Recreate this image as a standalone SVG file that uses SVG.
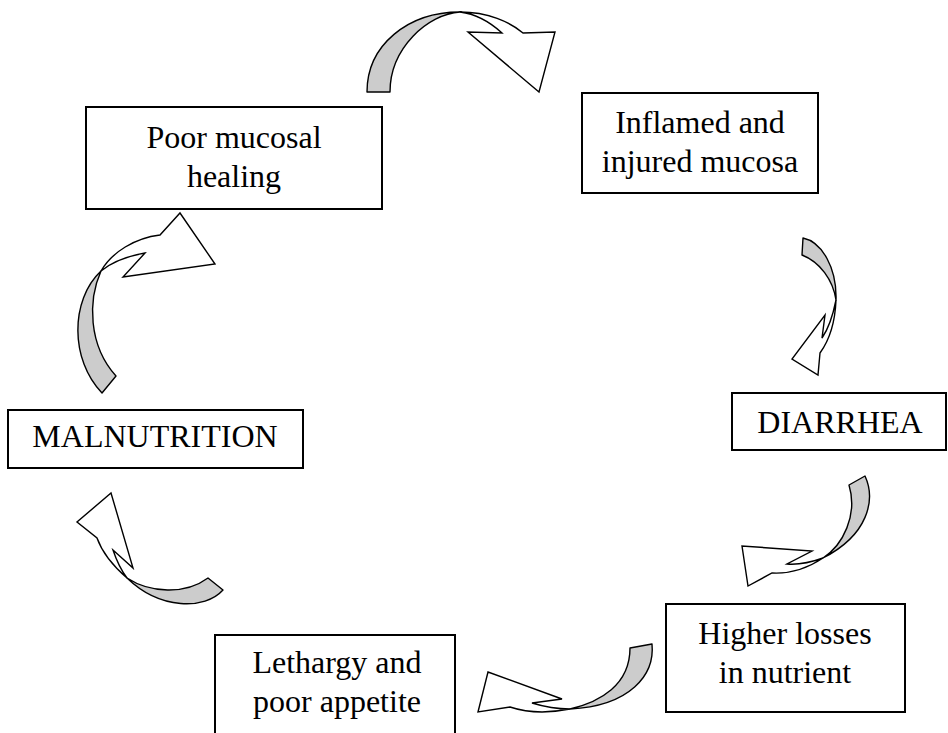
<svg xmlns="http://www.w3.org/2000/svg" width="948" height="733" viewBox="0 0 948 733">
<style>
.box{fill:#fff;stroke:#000;stroke-width:2}
.t{font-family:"Liberation Serif","Times New Roman",serif;font-size:32px;fill:#000;text-anchor:middle}
.g{fill:#cccccc;stroke:#000;stroke-width:1.4;stroke-linejoin:round}
.w{fill:#fff;stroke:#000;stroke-width:1.4;stroke-linejoin:miter}
</style>
<rect width="948" height="733" fill="#fff"/>
<g id="n-poor">
<rect class="box" x="86" y="107" width="296" height="102"/>
<text class="t" x="234" y="148">Poor mucosal</text>
<text class="t" x="234" y="187">healing</text>
</g>
<g id="n-inflamed">
<rect class="box" x="582" y="93" width="236" height="100"/>
<text class="t" x="700" y="133">Inflamed and</text>
<text class="t" x="700" y="172">injured mucosa</text>
</g>
<g id="n-diarrhea">
<rect class="box" x="732" y="393" width="214" height="57"/>
<text class="t" x="840" y="433">DIARRHEA</text>
</g>
<g id="n-higher">
<rect class="box" x="666" y="604" width="239" height="108"/>
<text class="t" x="785" y="644">Higher losses</text>
<text class="t" x="785" y="683">in nutrient</text>
</g>
<g id="n-lethargy">
<rect class="box" x="215" y="635" width="240" height="110"/>
<text class="t" x="337" y="673">Lethargy and</text>
<text class="t" x="337" y="712">poor appetite</text>
</g>
<g id="n-malnutrition">
<rect class="box" x="8" y="410" width="295" height="58"/>
<text class="t" x="155" y="447">MALNUTRITION</text>
</g>
<g id="connectors">
<path class="g" d="M367,92 C367,45 408,12 460,12 C428,14 390,48 390,92 Z"/>
<path class="w" d="M460,12 C488,12 510,22 523,33 L555,32 L539,92 L468,32 L502,33 C490,22 476,14 460,12 Z"/>
<path class="g" d="M803,238 C822,242 837,268 836,300 C833,280 820,262 802,255 Z"/>
<path class="w" d="M836,300 C835,325 828,342 820,353 L818,375 L792,359 L825,315 L822,338 C829,328 833,315 836,300 Z"/>
<path class="g" d="M849,485 L865,476 C876,500 868,535 823,558 C843,545 858,515 849,485 Z"/>
<path class="w" d="M823,558 C808,568 790,574 772,573 L748,586 L742,546 L812,551 L787,564 C800,565 812,562 823,558 Z"/>
<path class="g" d="M630,648 L652,644 C655,675 630,706 570,709 C600,702 630,685 630,648 Z"/>
<path class="w" d="M570,709 C550,713 528,713 510,707 L478,712 L488,672 L562,699 L532,703 C545,707 558,709 570,709 Z"/>
<path class="g" d="M208,578 L223,590 C205,610 160,610 127,578 C150,593 185,595 208,578 Z"/>
<path class="w" d="M127,578 C112,565 102,552 97,538 L77,522 L111,493 L133,568 L113,550 C117,562 121,570 127,578 Z"/>
<path class="g" d="M102,393 C70,360 70,300 101,271 C88,300 88,345 116,376 Z"/>
<path class="w" d="M101,271 C112,252 135,238 160,235 L180,213 L215,264 L123,277 L145,253 C128,256 112,262 101,271 Z"/>
</g>
</svg>
